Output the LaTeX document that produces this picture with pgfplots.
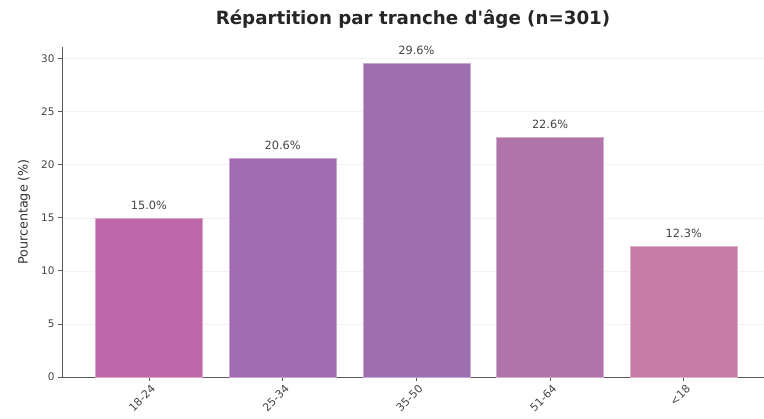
\documentclass[border=0pt]{standalone}
\usepackage{pgfplots}
\pgfplotsset{compat=1.18}
\usepackage{fontspec}
\setmainfont{DejaVu Sans}
\definecolor{cA}{HTML}{BE67A9}
\definecolor{cB}{HTML}{A06BB1}
\definecolor{cC}{HTML}{9E6FB0}
\definecolor{cD}{HTML}{B174AA}
\definecolor{cE}{HTML}{C77CA8}
\definecolor{txt}{HTML}{444444}
\begin{document}
\begin{tikzpicture}
\begin{axis}[
  name=ax,
  scale only axis,
  width=702bp, height=330bp,
  xmin=-0.65, xmax=4.6,
  ymin=0, ymax=31.1,
  axis lines*=left,
  axis line style={black!65, line width=0.9pt},
  ybar, bar width=0.8, bar shift=0pt,
  xtick={0,1,2,3,4},
  xticklabels={18-24,25-34,35-50,51-64,<18},
  x tick label style={rotate=45, anchor=north east, font=\fontsize{11}{12}\selectfont, text=txt, inner sep=1pt, yshift=-2pt},
  ytick={0,5,...,30},
  y tick label style={font=\fontsize{10.5}{11}\selectfont, text=txt},
  /pgf/number format/assume math mode=true,
  tick style={black!65, line width=0.8pt},
  tick align=outside, major tick length=4pt,
  ymajorgrids, grid style={black!5, line width=0.6pt},
  ylabel={Pourcentage (\%)},
  ylabel style={font=\fontsize{12.8}{14}\selectfont, text=black!80},
  ylabel shift=4bp,
  title={\textbf{Répartition par tranche d\textquotesingle âge (n=301)}},
  title style={font=\fontsize{18.3}{20}\selectfont, text=black!85, at={(axis description cs:0.5,1)}, anchor=south, yshift=9bp},
  nodes near coords={\pgfmathprintnumber[fixed,fixed zerofill,precision=1]{\pgfplotspointmeta}\%},
  every node near coord/.append style={font=\fontsize{11.4}{12}\selectfont, text=txt, yshift=5pt},
  clip=false,
]
\addplot[fill=cA, draw=cA!60!white, line width=0.6pt] coordinates {(0,15.0)};
\addplot[fill=cB, draw=cB!60!white, line width=0.6pt] coordinates {(1,20.6)};
\addplot[fill=cC, draw=cC!60!white, line width=0.6pt] coordinates {(2,29.6)};
\addplot[fill=cD, draw=cD!60!white, line width=0.6pt] coordinates {(3,22.6)};
\addplot[fill=cE, draw=cE!60!white, line width=0.6pt] coordinates {(4,12.3)};
\end{axis}
\pgfresetboundingbox
\path[use as bounding box] ([xshift=-62bp,yshift=-42bp]ax.south west) rectangle ([yshift=47bp]ax.north east);
\end{tikzpicture}
\end{document}
